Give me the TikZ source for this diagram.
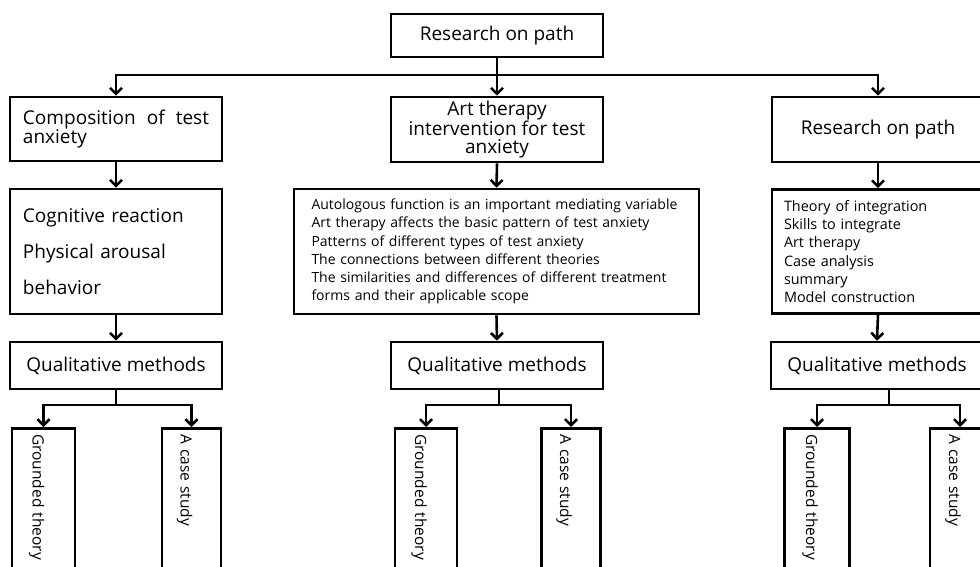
\documentclass[tikz,border=0pt]{standalone}
\usepackage{fontspec}
\setmainfont{Open Sans}
\usepackage{tikz}
\usetikzlibrary{arrows.meta}
\usetikzlibrary{positioning}
\tikzset{>={Straight Barb[length=6pt,width=12pt]}}
\tikzset{box/.style={draw, line width=2.6pt, inner sep=0pt, minimum width=212pt, font=\fontsize{19}{18}\selectfont}}
\tikzset{vbox/.style={draw, line width=2.6pt, rotate=-90, anchor=west, text width=150pt, align=left, inner xsep=6pt, inner ysep=0pt, text height=26pt, text depth=4pt, font=\fontsize{15.5}{18}\selectfont}}
\tikzset{link/.style={->, line width=2.6pt}, wire/.style={line width=2.6pt}}

\begin{document}
\begin{tikzpicture}[x=1pt, y=-1pt]
        \useasboundingbox (0,0) rectangle (980,567);
        \clip (0,0) rectangle (980,567);

        % Top
        \node[box, minimum height=43pt] (root) at (497,35.5) {Research on path};

        % Row 1
        \node[box, minimum height=64pt, align=left] (comp) at (116,129) {\makebox[186pt][s]{Composition of test}\\anxiety};
        \node[box, minimum height=65pt, align=center, font=\fontsize{19}{17.5}\selectfont] (art) at (497,129.5) {Art therapy\\intervention for test\\anxiety};
        \node[box, minimum height=65pt] (path) at (878,129.5) {Research on path};

        % Row 2
        \node[box, minimum height=125pt, align=left, text width=186pt, font=\fontsize{19}{36}\selectfont] (react) at (116,251.5) {Cognitive reaction\\Physical arousal\\behavior};
        \node[box, minimum width=405pt, minimum height=125pt, align=left, text width=370pt, font=\fontsize{14}{18.3}\selectfont] (items) at (496.5,251.5)
            {Autologous function is an important mediating variable\\
             Art therapy affects the basic pattern of test anxiety\\
             Patterns of different types of test anxiety\\
             The connections between different theories\\
             \makebox[368pt][s]{The similarities and differences of different treatment}\\
             forms and their applicable scope};
        \node[box, minimum height=124pt, align=left, text width=188pt, font=\fontsize{14.4}{18.3}\selectfont] (steps) at (878,251.5)
            {Theory of integration\\Skills to integrate\\Art therapy\\Case analysis\\summary\\Model construction};

        % Row 3
        \node[box, minimum height=47pt] (qual1) at (116,365.5) {Qualitative methods};
        \node[box, minimum height=47pt] (qual2) at (497,365.5) {Qualitative methods};
        \node[box, minimum height=47pt] (qual3) at (877,365.5) {Qualitative methods};

        % Row 4
        \node[vbox, minimum height=63pt] (gt1) at (43.5,427) {Grounded theory};
        \node[vbox, minimum height=59pt] (cs1) at (191.5,427) {A case study};
        \node[vbox, minimum height=62pt] (gt2) at (426,427) {Grounded theory};
        \node[vbox, minimum height=59pt] (cs2) at (571,427) {A case study};
        \node[vbox, minimum height=65pt] (gt3) at (817,427) {Grounded theory};
        \node[vbox, minimum height=60pt] (cs3) at (960,427) {A case study};

        % Arrows from the top
        \coordinate (fork) at (497,75);
        \draw[link] (root.south) -- (art.north);
        \draw[link] (fork) -| (comp.north);
        \draw[link] (fork) -| (path.north);

        % Arrows down the columns
        \draw[link] (comp.south) -- (react.north);
        \draw[link] (react.south) -- (qual1.north);
        \draw[link] (art.south) -- (items.north);
        \draw[link] (items.south) -- (qual2.north);
        \draw[link] (path.south) -- (steps.north);
        \draw[link] (steps.south) -- (qual3.north);

        % Splits
        \coordinate (f1) at (116,405);
        \coordinate (f2) at (499,405);
        \coordinate (f3) at (889,405);
        \draw[wire] (qual1.south) -- (f1);
        \draw[wire] (qual2.south -| f2) -- (f2);
        \draw[wire] (qual3.south -| f3) -- (f3);
        \draw[link] (f1) -| (gt1.west);
        \draw[link] (f1) -| (cs1.west);
        \draw[link] (f2) -| (gt2.west);
        \draw[link] (f2) -| (cs2.west);
        \draw[link] (f3) -| (gt3.west);
        \draw[link] (f3) -| (cs3.west);
    \end{tikzpicture}
\end{document}
